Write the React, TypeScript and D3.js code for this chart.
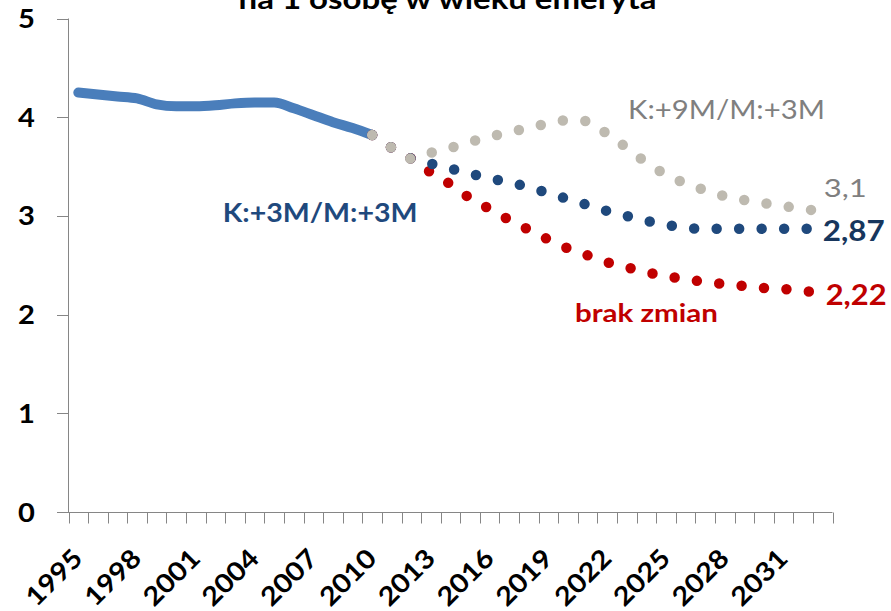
import React, { useEffect, useRef } from "react";
import * as d3 from "d3";

// categories (years on the x axis)
const years = [
  1995, 1996, 1997, 1998, 1999, 2000, 2001, 2002, 2003, 2004, 2005, 2006, 2007,
  2008, 2009, 2010, 2011, 2012, 2013, 2014, 2015, 2016, 2017, 2018, 2019, 2020,
  2021, 2022, 2023, 2024, 2025, 2026, 2027, 2028, 2029, 2030, 2031, 2032, 2033,
];
const tickYears = [1995, 1998, 2001, 2004, 2007, 2010, 2013, 2016, 2019, 2022, 2025, 2028, 2031];
const yTicks = [0, 1, 2, 3, 4, 5];

const historyYears = years.slice(0, 16); // 1995-2010
const forecastYears = years.slice(15); // 2010-2033

// historical data
const history = [4.25, 4.23, 4.21, 4.19, 4.13, 4.11, 4.11, 4.12, 4.14, 4.15, 4.15, 4.09, 4.02, 3.95, 3.89, 3.82];

// scenario "brak zmian"
const noChange = [
  3.82, 3.69, 3.58, 3.44, 3.32, 3.18, 3.07, 2.96, 2.86, 2.76, 2.67, 2.6, 2.53, 2.48, 2.43, 2.39,
  2.36, 2.33, 2.31, 2.29, 2.27, 2.26, 2.24, 2.22,
];
// scenario "K:+3M/M:+3M"
const plus3 = [
  3.82, 3.69, 3.58, 3.53, 3.48, 3.43, 3.38, 3.34, 3.29, 3.23, 3.17, 3.11, 3.05, 3.0, 2.95, 2.91,
  2.88, 2.87, 2.87, 2.87, 2.87, 2.87, 2.87, 2.87,
];
// scenario "K:+9M/M:+3M"
const plus9 = [
  3.82, 3.69, 3.58, 3.64, 3.69, 3.75, 3.8, 3.85, 3.89, 3.94, 3.97, 3.96, 3.83, 3.69, 3.54, 3.42,
  3.33, 3.26, 3.2, 3.16, 3.13, 3.1, 3.07, 3.05,
];

const FONT = "Lato, 'Open Sans', sans-serif";
const STRETCH = 1.12; // the original font is wider than Lato

// stretch a text horizontally so that it covers the given width
function fitWidth(node: SVGTextElement, target: number) {
  var natural = node.getComputedTextLength();
  return natural > 0 ? target / natural : 1;
}

function drawChart(container: SVGSVGElement) {
  const width = 891,
    height = 611;
  const axisColor = "#868686";

  const svg = d3.select(container);
  svg.selectAll("*").remove();
  svg.attr("width", width).attr("height", height);

  svg.append("rect").attr("width", width).attr("height", height).attr("fill", "#ffffff");

  const x = d3.scaleBand<number>().domain(years).range([68.5, 832.5]);
  const cx = (yr: number) => (x(yr) as number) + x.bandwidth() / 2;
  const y = d3.scaleLinear().domain([0, 5]).range([512, 18.5]);

  // title (second line, the top line lies outside the picture)
  const title = svg
    .append("text")
    .attr("text-anchor", "middle")
    .style("font-family", FONT)
    .style("font-weight", "bold")
    .style("font-size", "28px")
    .style("fill", "#000")
    .text("na 1 osobę w wieku emeryta");
  title.attr(
    "transform",
    "translate(447.5,8.5) scale(" + fitWidth(title.node() as SVGTextElement, 418) + ",1)"
  );

  // y axis
  const yAxis = svg.append("g");
  yAxis
    .append("line")
    .attr("x1", 68.5)
    .attr("x2", 68.5)
    .attr("y1", y(5))
    .attr("y2", y(0))
    .style("stroke", axisColor);
  yAxis
    .selectAll("line.tick")
    .data(yTicks)
    .enter()
    .append("line")
    .attr("class", "tick")
    .attr("x1", 57)
    .attr("x2", 68.5)
    .attr("y1", (d) => Math.round(y(d)) + 0.5)
    .attr("y2", (d) => Math.round(y(d)) + 0.5)
    .style("stroke", axisColor);
  yAxis
    .selectAll("text")
    .data(yTicks)
    .enter()
    .append("text")
    .attr("transform", (d) => "translate(35," + (y(d) + 9.5) + ") scale(" + STRETCH + ",1)")
    .attr("text-anchor", "end")
    .style("font-family", FONT)
    .style("font-weight", "bold")
    .style("font-size", "26px")
    .style("fill", "#000")
    .text((d) => String(d));

  // x axis
  const xAxis = svg.append("g");
  const edges = years.map((yr) => x(yr) as number).concat([x.range()[1]]);
  xAxis
    .append("line")
    .attr("x1", 57)
    .attr("x2", x.range()[1])
    .attr("y1", 512.5)
    .attr("y2", 512.5)
    .style("stroke", axisColor);
  xAxis
    .selectAll("line.tick")
    .data(edges)
    .enter()
    .append("line")
    .attr("class", "tick")
    .attr("x1", (d) => Math.round(d) + 0.5)
    .attr("x2", (d) => Math.round(d) + 0.5)
    .attr("y1", 512.5)
    .attr("y2", 523.5)
    .style("stroke", axisColor);
  xAxis
    .selectAll("text")
    .data(tickYears)
    .enter()
    .append("text")
    .attr(
      "transform",
      (d) => "translate(" + (cx(d) + 6) + ",560) rotate(-45) scale(" + STRETCH + ",1)"
    )
    .attr("text-anchor", "end")
    .style("font-family", FONT)
    .style("font-weight", "bold")
    .style("font-size", "26px")
    .style("fill", "#000")
    .text((d) => String(d));

  const line = d3
    .line<[number, number]>()
    .x((d) => cx(d[0]))
    .y((d) => y(d[1]))
    .curve(d3.curveMonotoneX);

  // historical solid line
  svg
    .append("path")
    .attr("d", line(d3.zip(historyYears, history) as [number, number][]))
    .style("fill", "none")
    .style("stroke", "#4a7ebb")
    .style("stroke-width", "10px")
    .style("stroke-linecap", "round")
    .style("stroke-linejoin", "round");

  // dotted scenario lines
  const scenarios = [
    { values: noChange, color: "#c00000" },
    { values: plus3, color: "#1f497d" },
    { values: plus9, color: "#bebab0" },
  ];
  scenarios.forEach((s) => {
    svg
      .append("path")
      .attr("d", line(d3.zip(forecastYears, s.values) as [number, number][]))
      .style("fill", "none")
      .style("stroke", s.color)
      .style("stroke-width", "10.5px")
      .style("stroke-linecap", "round")
      .style("stroke-dasharray", "0 22.5");
  });

  const last = forecastYears[forecastYears.length - 1];
  const lastIdx = forecastYears.length - 1;

  // data labels at the end of each scenario
  const endLabels = [
    { text: "3,1", value: plus9[lastIdx], dx: 1, dy: -14, len: 43, color: "#7f7f7f", weight: "normal", size: 25 },
    { text: "2,87", value: plus3[lastIdx], dx: 0, dy: 12, len: 62, color: "#17365d", weight: "bold", size: 28 },
    { text: "2,22", value: noChange[lastIdx], dx: 3, dy: 12, len: 61, color: "#c00000", weight: "bold", size: 28 },
  ];
  endLabels.forEach((l) => {
    const t = svg
      .append("text")
      .style("font-family", FONT)
      .style("font-weight", l.weight)
      .style("font-size", l.size + "px")
      .style("fill", l.color)
      .text(l.text);
    const sx = fitWidth(t.node() as SVGTextElement, l.len);
    t.attr(
      "transform",
      "translate(" + (cx(last) + l.dx) + "," + (y(l.value) + l.dy) + ") scale(" + sx + ",1)"
    );
  });

  // scenario names
  const names = [
    { text: "K:+9M/M:+3M", x: 628, y: 118.5, len: 197, color: "#7f7f7f", weight: "normal", size: 26 },
    { text: "K:+3M/M:+3M", x: 222.7, y: 221.7, len: 195, color: "#1f497d", weight: "bold", size: 26 },
    { text: "brak zmian", x: 575, y: 321.7, len: 143, color: "#c00000", weight: "bold", size: 25 },
  ];
  names.forEach((n) => {
    const t = svg
      .append("text")
      .style("font-family", FONT)
      .style("font-weight", n.weight)
      .style("font-size", n.size + "px")
      .style("fill", n.color)
      .text(n.text);
    const sx = fitWidth(t.node() as SVGTextElement, n.len);
    t.attr("transform", "translate(" + n.x + "," + n.y + ") scale(" + sx + ",1)");
  });
}

function App() {
  const ref = useRef<SVGSVGElement>(null);
  useEffect(() => {
    if (ref.current) drawChart(ref.current);
  }, []);

  return (
    <svg
      ref={ref}
      width={891}
      height={611}
      style={{ position: "absolute", left: 0, top: 0, display: "block" }}
    />
  );
}

export default App;
